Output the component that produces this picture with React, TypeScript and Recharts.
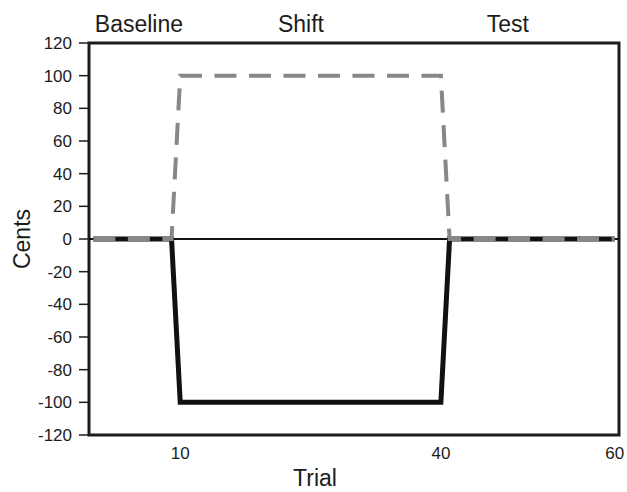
import React from "react";
import { LineChart, Line, XAxis, YAxis, ReferenceLine, ReferenceArea } from "recharts";

// corner points of the two traces (straight segments between them)
const trials = [0, 9, 10, 40, 41, 60];
const shiftCents = [0, 0, 100, 100, 0, 0];
const responseCents = [0, 0, -100, -100, 0, 0];

const xTicks = [10, 40, 60];
const yTicks = [-120, -100, -80, -60, -40, -20, 0, 20, 40, 60, 80, 100, 120];

// phase titles along the top, placed in trial units
const phaseNames = ["Baseline", "Shift", "Test"];
const phaseCenters = [5.25, 23.9, 47.7];

const data = trials.map((t, i) => ({
  trial: t,
  shift: shiftCents[i],
  response: responseCents[i],
}));

const FONT = "'Liberation Sans', Arial, Helvetica, sans-serif";
const INK = "#1c1c1c";

export default function App() {
  return (
    <div style={{ position: "absolute", left: 0, top: 0, width: 627, height: 492, background: "#fff" }}>
      <style>{`body{margin:0;}`}</style>
      <LineChart
        width={627}
        height={492}
        data={data}
        margin={{ top: 0, right: 8, bottom: 0, left: 0 }}
        style={{ fontFamily: FONT }}
      >
        <XAxis
          xAxisId="top"
          orientation="top"
          dataKey="trial"
          type="number"
          domain={[-0.5, 60.5]}
          ticks={phaseCenters}
          tickFormatter={(v: number, i: number) => phaseNames[i]}
          interval={0}
          height={43}
          axisLine={false}
          tickLine={false}
          tickSize={0}
          tickMargin={11}
          tick={{ fontSize: 23, fill: INK, fontFamily: FONT }}
        />
        <XAxis
          dataKey="trial"
          type="number"
          domain={[-0.5, 60.5]}
          ticks={xTicks}
          interval={0}
          height={57}
          axisLine={false}
          tickLine={false}
          tickSize={5}
          tickMargin={7}
          tick={{ fontSize: 17, fill: INK, fontFamily: FONT }}
          label={{
            value: "Trial",
            position: "insideBottom",
            offset: 6,
            dx: -39,
            style: { fontSize: 23, fill: INK, fontFamily: FONT },
          }}
        />
        <YAxis
          type="number"
          domain={[-120, 120]}
          ticks={yTicks}
          interval={0}
          width={89}
          axisLine={false}
          tickSize={10}
          tickMargin={7}
          tickLine={{ stroke: INK, strokeWidth: 1.5 }}
          tick={{ fontSize: 17, fill: INK, fontFamily: FONT }}
          label={{
            value: "Cents",
            angle: -90,
            position: "insideLeft",
            offset: 22,
            style: { textAnchor: "middle", fontSize: 23, fill: INK, fontFamily: FONT },
          }}
        />
        <ReferenceArea
          x1={-0.5}
          x2={60.5}
          y1={-120}
          y2={120}
          fill="none"
          fillOpacity={0}
          stroke={INK}
          strokeWidth={3}
          ifOverflow="visible"
        />
        <ReferenceLine y={0} stroke="#111" strokeWidth={2} />
        <Line
          type="linear"
          dataKey="response"
          stroke="#111"
          strokeWidth={5}
          strokeLinejoin="miter"
          dot={false}
          activeDot={false}
          isAnimationActive={false}
        />
        <Line
          type="linear"
          dataKey="shift"
          stroke="#878787"
          strokeWidth={4}
          strokeDasharray="22 12.5"
          dot={false}
          activeDot={false}
          isAnimationActive={false}
        />
      </LineChart>
    </div>
  );
}
